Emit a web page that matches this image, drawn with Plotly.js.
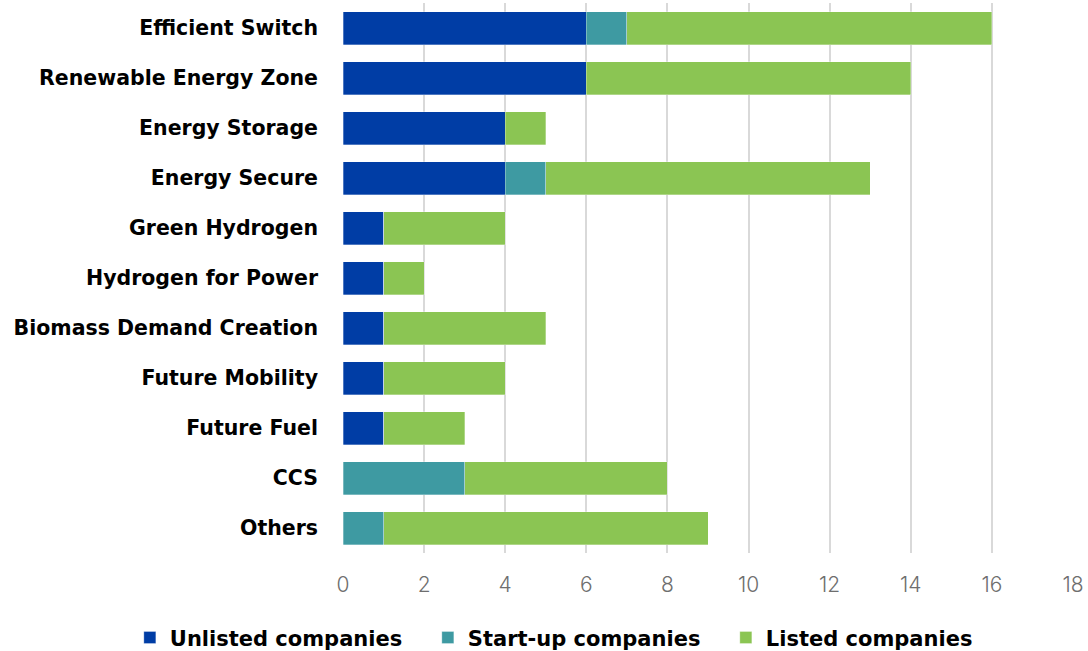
<!DOCTYPE html>
<html><head><meta charset="utf-8">
<script src="https://cdn.plot.ly/plotly-3.0.1.min.js"></script>
<style>body{margin:0;background:#fff}#c{width:1088px;height:651px}</style>
</head><body><div id="c"></div>
<script>
const categories = ["Efficient Switch","Renewable Energy Zone","Energy Storage","Energy Secure","Green Hydrogen","Hydrogen for Power","Biomass Demand Creation","Future Mobility","Future Fuel","CCS","Others"];
const unlisted = [6,6,4,4,1,1,1,1,1,0,0];
const startup  = [1,0,0,1,0,0,0,0,0,3,1];
const listed   = [9,8,1,8,3,1,4,3,2,5,8];
const seriesNames = ["Unlisted companies","Start-up companies","Listed companies"];
const colors = ["#003DA5","#3E9AA2","#8BC553"];
const xTicks = [0,2,4,6,8,10,12,14,16,18];

const BOLDFONT = "DejaVu Sans, sans-serif";
const THINFONT = "Inter, Noto Sans, sans-serif";
const data = [unlisted, startup, listed].map((v,i)=>({
  type:"bar", orientation:"h", y:categories, x:v, name:seriesNames[i],
  marker:{color:colors[i], line:{color:"rgba(255,255,255,0.6)", width:0.5}},
  hoverinfo:"x+name"
}));

const layout = {
  width:1088, height:651, barmode:"stack", bargap:0.34,
  paper_bgcolor:"#fff", plot_bgcolor:"#fff",
  margin:{l:343, r:15, t:3, b:98, autoexpand:false},
  font:{family:BOLDFONT},
  xaxis:{range:[0,18], tickvals:xTicks, showgrid:true, gridcolor:"#d9d9d9", gridwidth:2,
    zeroline:false, showline:false, ticks:"", tickfont:{size:21, color:"#6e6e6e", family:THINFONT, weight:300},
    ticklabelstandoff:17, fixedrange:true},
  yaxis:{autorange:"reversed", type:"category", ticks:"", showline:false, showgrid:false,
    tickfont:{size:20.5, color:"#000", family:BOLDFONT, weight:"bold"}, ticklabelstandoff:24, fixedrange:true},
  legend:{orientation:"h", x:-0.292, xanchor:"left", xref:"paper", y:-0.117, yanchor:"top",
    font:{size:21, color:"#000", family:BOLDFONT, weight:"bold"}, traceorder:"normal", itemwidth:30,
    entrywidth:253, entrywidthmode:"pixels"},
  showlegend:true
};
Plotly.newPlot("c", data, layout, {displayModeBar:false, staticPlot:true});
</script></body></html>
